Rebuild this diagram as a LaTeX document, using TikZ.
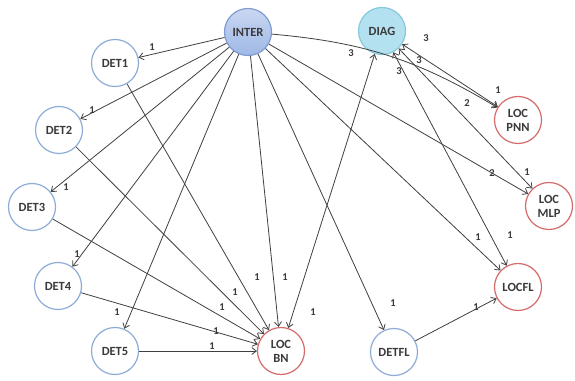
\documentclass[tikz,border=0pt]{standalone}
\usepackage{fontspec}
\setmainfont{Carlito}
\usetikzlibrary{arrows.meta}
\definecolor{detblue}{HTML}{8EACD8}
\definecolor{locred}{HTML}{D46A6A}
\definecolor{intertop}{HTML}{C9D7F1}
\definecolor{interbot}{HTML}{9FB8E6}
\definecolor{interdraw}{HTML}{7F9BCF}
\definecolor{diagfill}{HTML}{B3E1EF}
\definecolor{diagdraw}{HTML}{86C8DD}
\definecolor{txt}{HTML}{3A3A3A}
\definecolor{edgecol}{HTML}{404040}
\tikzset{
  base/.style={circle, minimum size=47pt, inner sep=0pt, line width=1.2pt, font=\fontsize{12.5}{14}\selectfont\bfseries, text=txt, align=center},
  detnode/.style={base, draw=detblue, fill=white},
  locnode/.style={base, draw=locred, fill=white},
  internode/.style={base, draw=interdraw, top color=intertop, bottom color=interbot},
  diagnode/.style={base, draw=diagdraw, fill=diagfill},
  conn/.style={draw=edgecol, line width=0.8pt, -{Straight Barb[length=4.5pt,width=7pt]}},
  bicon/.style={draw=edgecol, line width=0.8pt, {Straight Barb[length=4.5pt,width=7pt]}-{Straight Barb[length=4.5pt,width=7pt]}},
  lab/.style={font=\fontsize{10.5}{11}\selectfont\bfseries, text=txt, inner sep=0pt}
}
\begin{document}
\begin{tikzpicture}[x=1pt,y=1pt]
\useasboundingbox (0,0) rectangle (575,380);
\fill[white] (0,0) rectangle (575,380);
\node[internode] (inter) at (248,348) {INTER};
\node[diagnode] (diag) at (382,349) {DIAG};
\node[detnode] (det1) at (115,317) {DET1};
\node[detnode] (det2) at (59,250) {DET2};
\node[detnode] (det3) at (32,173) {DET3};
\node[detnode] (det4) at (58,94) {DET4};
\node[detnode] (det5) at (115,29) {DET5};
\node[locnode] (locbn) at (281,29) {LOC\\BN};
\node[detnode] (detfl) at (394,28) {DETFL};
\node[locnode] (locfl) at (518,93) {LOCFL};
\node[locnode] (locmlp) at (549,174) {LOC\\MLP};
\node[locnode] (locpnn) at (518,260) {LOC\\PNN};

\draw[conn] (inter) -- (det1);
\draw[conn] (inter) -- (det2);
\draw[conn] (inter) -- (det3);
\draw[conn] (inter) -- (det4);
\draw[conn] (inter) -- (det5);
\draw[conn] (inter) -- (locbn);
\draw[conn] (inter) -- (detfl);
\draw[conn] (inter) -- (locfl);
\draw[conn] (inter) -- (locmlp);
\draw[conn] (inter) to[bend left=13] (locpnn);
\draw[conn] (det1) -- (locbn);
\draw[conn] (det2) -- (locbn);
\draw[conn] (det3) -- (locbn);
\draw[conn] (det4) -- (locbn);
\draw[conn] (det5) -- (locbn);
\draw[conn] (detfl) -- (locfl);
\draw[bicon] (locbn) -- (diag);
\draw[bicon] (diag) -- (locpnn);
\draw[bicon] (diag) -- (locmlp);
\draw[bicon] (diag) -- (locfl);

\node[lab] (l1) at (152,333) {1};
\node[lab] (l2) at (92,270) {1};
\node[lab] (l3) at (66,193) {1};
\node[lab] (l4) at (77,126) {1};
\node[lab] (l5) at (117,68) {1};
\node[lab] (l6) at (257,103) {1};
\node[lab] (l7) at (285,103) {1};
\node[lab] (l8) at (235,88) {1};
\node[lab] (l9) at (222,73) {1};
\node[lab] (l10) at (216,49) {1};
\node[lab] (l11) at (212,34) {1};
\node[lab] (l12) at (313,68) {1};
\node[lab] (l13) at (393,77) {1};
\node[lab] (l14) at (478,143) {1};
\node[lab] (l15) at (510,145) {1};
\node[lab] (l16) at (476,73) {1};
\node[lab] (l17) at (492,207) {2};
\node[lab] (l18) at (527,208) {1};
\node[lab] (l19) at (467,277) {2};
\node[lab] (l20) at (498,290) {1};
\node[lab] (l21) at (426,342) {3};
\node[lab] (l22) at (419,320) {3};
\node[lab] (l23) at (399,309) {3};
\node[lab] (l24) at (351,327) {3};
\end{tikzpicture}
\end{document}
